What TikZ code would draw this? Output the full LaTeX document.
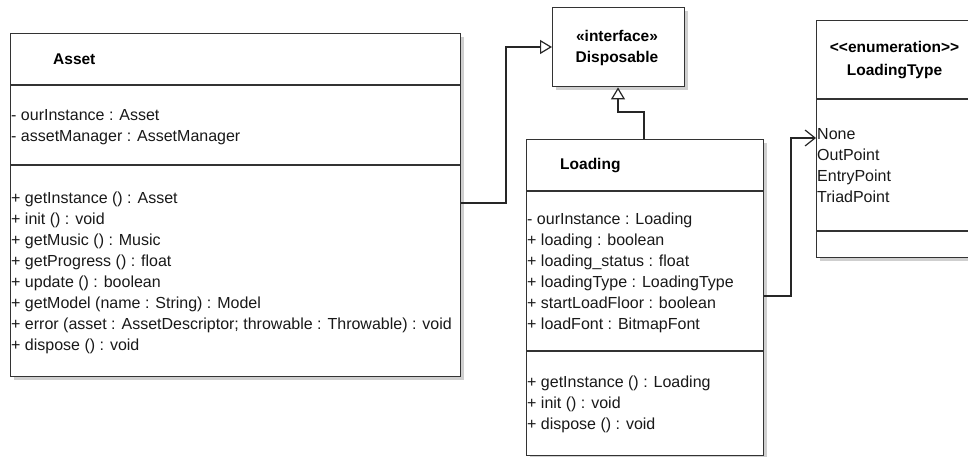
\documentclass[tikz,border=0pt]{standalone}
\usepackage{fontspec}
\setmainfont{Liberation Sans}
\usetikzlibrary{arrows.meta,shadows}
\definecolor{edge}{HTML}{333333}
\definecolor{shade}{HTML}{CFCFCF}
\begin{document}
\begin{tikzpicture}[x=1pt,y=-1pt,
  box/.style={draw=edge, line width=1.4pt, fill=white, inner sep=0pt, anchor=north west,
    drop shadow={shadow xshift=3pt,shadow yshift=-3pt,fill=shade,opacity=1}},
  txt/.style={anchor=base west, inner sep=0pt, font=\fontsize{16}{19}\selectfont, text=black!90},
  ttl/.style={anchor=base, inner sep=0pt, font=\fontsize{15.5}{18}\selectfont\bfseries, text=black},
  divider/.style={draw=edge, line width=1.4pt},
  conn/.style={draw=black!85, line width=1.2pt},
  gen/.style={-{Triangle[open,length=12pt,width=14pt,fill=white]}},
  dep/.style={-{Straight Barb[length=10pt,width=16pt]}}]
\useasboundingbox (0,0) rectangle (968,457);

% Asset
\node[box, minimum width=450pt, minimum height=343pt] (asset) at (10,33) {};
\draw[divider] (asset.west |- 0,85) -- (asset.east |- 0,85);
\draw[divider] (asset.west |- 0,165) -- (asset.east |- 0,165);
\node[ttl, anchor=base west] (assetname) at (53,65) {Asset};
\foreach \t [count=\i] in {{- ourInstance : Asset},{- assetManager : AssetManager}}
  \node[txt] (aattr\i) at (11,100+21*\i) {\t};
\foreach \t [count=\i] in {{+ getInstance () : Asset},{+ init () : void},{+ getMusic () : Music},{+ getProgress () : float},{+ update () : boolean},{+ getModel (name : String) : Model},{+ error (asset : AssetDescriptor; throwable : Throwable) : void},{+ dispose () : void}}
  \node[txt] (aop\i) at (11,182+21*\i) {\t};

% Disposable
\node[box, minimum width=132pt, minimum height=79pt] (disp) at (552,7) {};
\node[ttl] (dispst) at (617,42) {«interface»};
\node[ttl] (dispname) at (617,63) {Disposable};

% Loading
\node[box, minimum width=237pt, minimum height=316pt] (loading) at (526,139) {};
\draw[divider] (loading.west |- 0,191) -- (loading.east |- 0,191);
\draw[divider] (loading.west |- 0,351) -- (loading.east |- 0,351);
\node[ttl, anchor=base west] (loadingname) at (560,170) {Loading};
\foreach \t [count=\i] in {{- ourInstance : Loading},{+ loading : boolean},{+ loading\_status : float},{+ loadingType : LoadingType},{+ startLoadFloor : boolean},{+ loadFont : BitmapFont}}
  \node[txt] (lattr\i) at (527,203+21*\i) {\t};
\foreach \t [count=\i] in {{+ getInstance () : Loading},{+ init () : void},{+ dispose () : void}}
  \node[txt] (lop\i) at (527,366+21*\i) {\t};

% LoadingType
\node[box, minimum width=174pt, minimum height=237pt] (ltype) at (816,20) {};
\draw[divider] (ltype.west |- 0,99) -- (ltype.east |- 0,99);
\draw[divider] (ltype.west |- 0,231) -- (ltype.east |- 0,231);
\node[ttl] (ltypest) at (894.5,53) {<\kern0pt<enumeration>\kern0pt>};
\node[ttl] (ltypename) at (894.5,76) {LoadingType};
\foreach \t [count=\i] in {None,OutPoint,EntryPoint,TriadPoint}
  \node[txt] (lval\i) at (817,118.5+21*\i) {\t};

% connectors
\draw[conn,gen] (asset.east |- 0,203) -- (506,203) -- (506,47) -- (disp.west |- 0,47);
\draw[conn,gen] (loading.north -| 644,0) -- (644,112) -- (618,112) -- (disp.south -| 618,0);
\draw[conn,dep] (loading.east |- 0,296) -- (791,296) -- (791,138) -- (ltype.west |- 0,138);
\end{tikzpicture}
\end{document}
